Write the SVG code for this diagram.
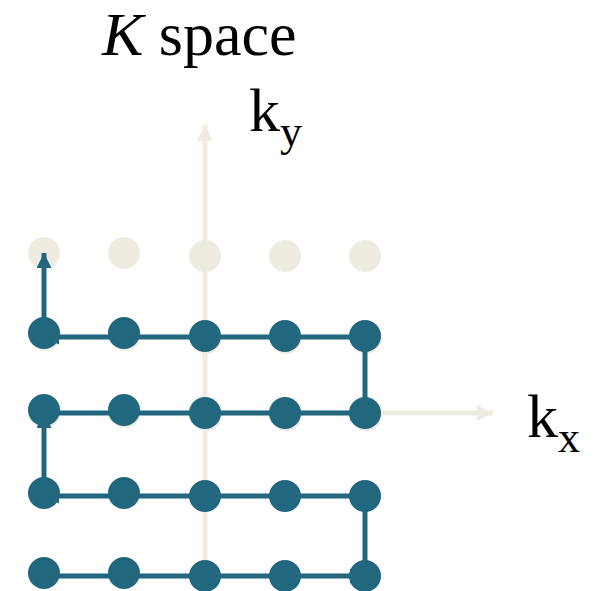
<svg xmlns="http://www.w3.org/2000/svg" width="597" height="591" viewBox="0 0 597 591">
<style>
.t{font-family:'Liberation Serif','Times New Roman',serif;fill:#000}
.bg{fill:#EEECE1}
.bl{fill:#21677E}
.path{stroke:#21677E;stroke-width:5;fill:none}
.ax{stroke:#EEECE1;stroke-width:5;fill:none}
</style>
<defs>
<marker id="ah" viewBox="0 0 10 10" refX="10" refY="5" markerWidth="3" markerHeight="3" orient="auto" markerUnits="strokeWidth"><path d="M0,0 L10,5 L0,10 z" fill="#21677E"/></marker>
<marker id="aa" viewBox="0 0 10 10" refX="10" refY="5" markerWidth="3.2" markerHeight="3.2" orient="auto" markerUnits="strokeWidth"><path d="M0,0 L10,5 L0,10 z" fill="#EEECE1"/></marker>
</defs>
<g id="axes">
<line class="ax" x1="205" y1="591" x2="205" y2="125" marker-end="url(#aa)"/>
<line class="ax" x1="205" y1="413" x2="493" y2="413" marker-end="url(#aa)"/>
</g>
<g id="grid-empty">
<circle class="bg" cx="44" cy="253" r="16"/>
<circle class="bg" cx="124" cy="253" r="16"/>
<circle class="bg" cx="205" cy="256" r="16"/>
<circle class="bg" cx="285" cy="256" r="16"/>
<circle class="bg" cx="365" cy="256" r="16"/>
</g>
<g id="shadows">
<circle class="bg" cx="45" cy="335" r="16"/><circle class="bg" cx="125" cy="335" r="16"/><circle class="bg" cx="206" cy="338" r="16"/><circle class="bg" cx="286" cy="338" r="16"/><circle class="bg" cx="366" cy="338" r="16"/>
<circle class="bg" cx="45" cy="412" r="16"/><circle class="bg" cx="125" cy="412" r="16"/><circle class="bg" cx="206" cy="415" r="16"/><circle class="bg" cx="286" cy="415" r="16"/><circle class="bg" cx="366" cy="415" r="16"/>
</g>
<g id="connectors">
<line class="path" x1="44" y1="576" x2="365" y2="576" marker-end="url(#ah)"/>
<line class="path" x1="365" y1="576" x2="365" y2="496"/>
<line class="path" x1="365" y1="496" x2="44" y2="496" marker-end="url(#ah)"/>
<line class="path" x1="44" y1="493" x2="44" y2="413" marker-end="url(#ah)"/>
<line class="path" x1="44" y1="413" x2="365" y2="413" marker-end="url(#ah)"/>
<line class="path" x1="365" y1="413" x2="365" y2="336"/>
<line class="path" x1="365" y1="337" x2="44" y2="337" marker-end="url(#ah)"/>
<line class="path" x1="44" y1="333" x2="44" y2="253" marker-end="url(#ah)"/>
</g>
<g id="samples">
<circle class="bl" cx="44" cy="333" r="16"/><circle class="bl" cx="124" cy="333" r="16"/><circle class="bl" cx="205" cy="336" r="16"/><circle class="bl" cx="285" cy="336" r="16"/><circle class="bl" cx="365" cy="336" r="16"/>
<circle class="bl" cx="44" cy="410" r="16"/><circle class="bl" cx="124" cy="410" r="16"/><circle class="bl" cx="205" cy="413" r="16"/><circle class="bl" cx="285" cy="413" r="16"/><circle class="bl" cx="365" cy="413" r="16"/>
<circle class="bl" cx="44" cy="493" r="16"/><circle class="bl" cx="124" cy="493" r="16"/><circle class="bl" cx="205" cy="496" r="16"/><circle class="bl" cx="285" cy="496" r="16"/><circle class="bl" cx="365" cy="496" r="16"/>
<circle class="bl" cx="44" cy="573" r="16"/><circle class="bl" cx="124" cy="573" r="16"/><circle class="bl" cx="205" cy="576" r="16"/><circle class="bl" cx="285" cy="576" r="16"/><circle class="bl" cx="365" cy="576" r="16"/>
</g>
<g id="labels">
<text class="t" x="102" y="55" font-size="62"><tspan font-style="italic">K</tspan> space</text>
<text class="t" x="249" y="131" font-size="62">k<tspan font-size="44" dy="15">y</tspan></text>
<text class="t" x="527" y="437" font-size="62">k<tspan font-size="44" dy="15">x</tspan></text>
</g>
</svg>
